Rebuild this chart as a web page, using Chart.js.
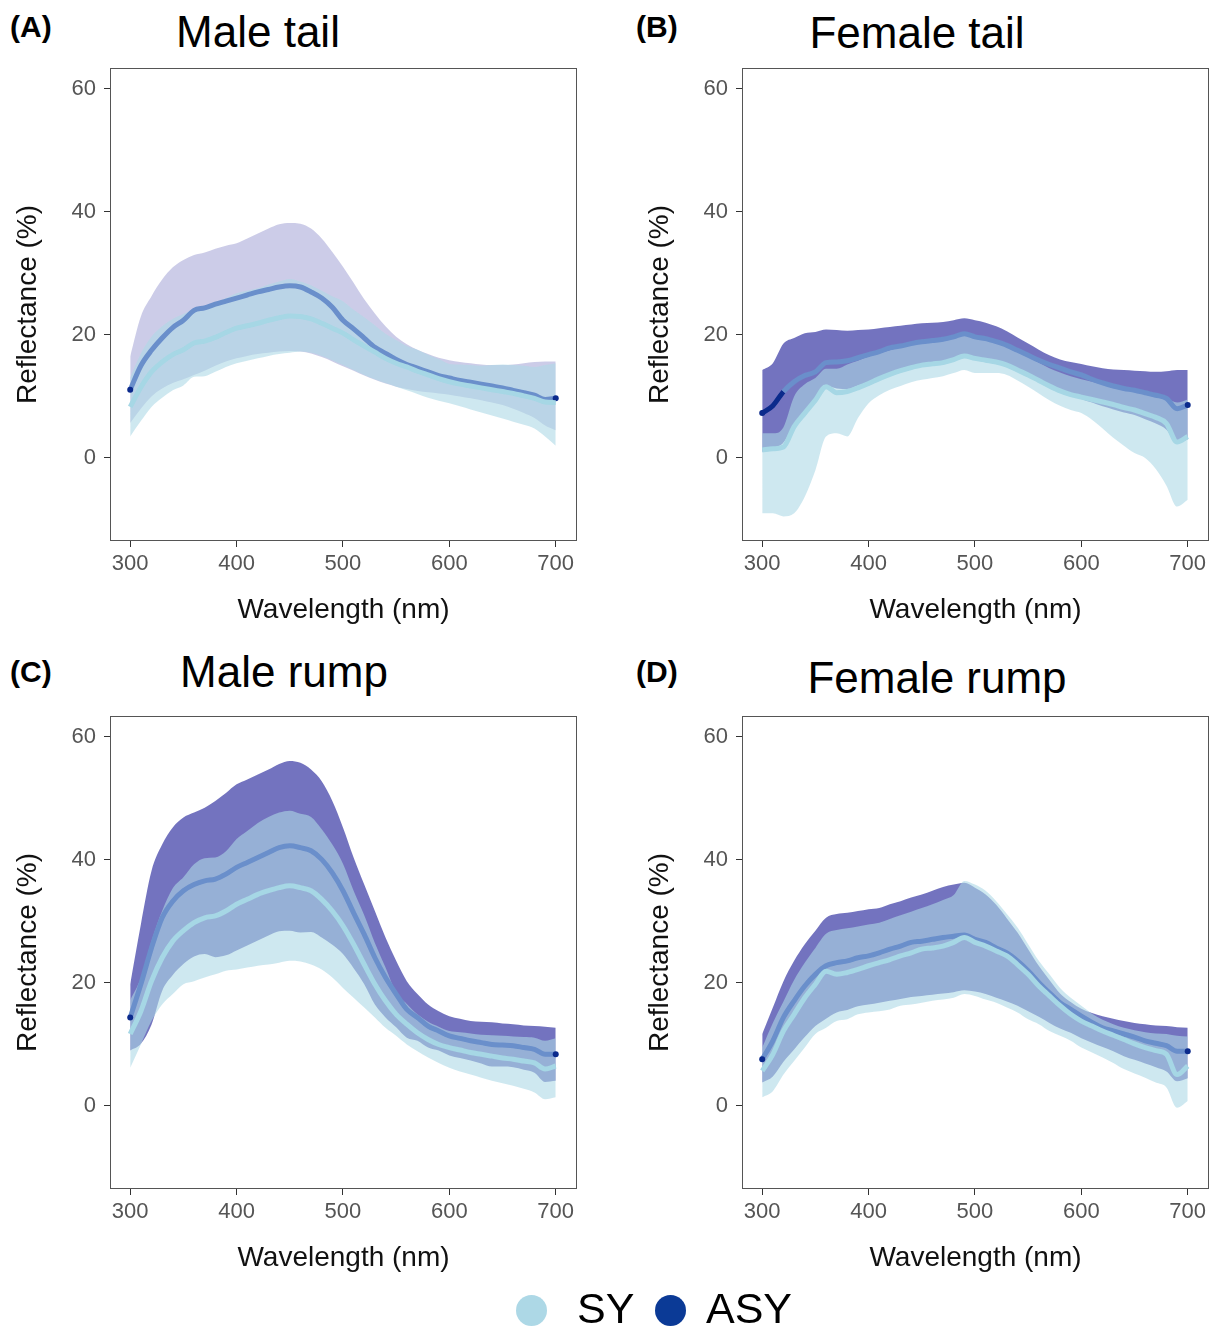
<!DOCTYPE html>
<html>
<head>
<meta charset="utf-8">
<script src="https://cdn.jsdelivr.net/npm/chart.js@4.4.1/dist/chart.umd.min.js"></script>
<style>
  body { margin: 0; background: #fff; width: 1213px; height: 1333px; position: relative; overflow: hidden;
         font-family: "Liberation Sans", Arial, sans-serif; }
  canvas { position: absolute; }
  .letter { position: absolute; font-weight: bold; font-size: 30px; line-height: 1; }
  .title { position: absolute; font-size: 44px; line-height: 1; transform: translateX(-50%); white-space: nowrap; }
  .dot { position: absolute; width: 31px; height: 31px; border-radius: 50%; }
  .key { position: absolute; font-size: 43px; line-height: 1; }
</style>
</head>
<body>
<div class="letter" style="left:10px;top:12px">(A)</div>
<div class="letter" style="left:636px;top:12px">(B)</div>
<div class="letter" style="left:10px;top:657px">(C)</div>
<div class="letter" style="left:636px;top:657px">(D)</div>
<div class="title" style="left:258px;top:10px">Male tail</div>
<div class="title" style="left:917px;top:11px">Female tail</div>
<div class="title" style="left:284px;top:650px">Male rump</div>
<div class="title" style="left:937px;top:656px">Female rump</div>

<canvas id="maleTail" width="581" height="640" style="left:0;top:0"></canvas>
<canvas id="femaleTail" width="581" height="640" style="left:632px;top:0"></canvas>
<canvas id="maleRump" width="581" height="640" style="left:0;top:648px"></canvas>
<canvas id="femaleRump" width="581" height="640" style="left:632px;top:648px"></canvas>

<div class="dot" style="left:516px;top:1295px;background:#add8e6"></div>
<div class="key" style="left:577px;top:1287px">SY</div>
<div class="dot" style="left:655px;top:1295px;background:#0b3a96"></div>
<div class="key" style="left:706px;top:1287px">ASY</div>

<script>
// wavelength grid (nm)
const wavelength = [300, 310, 320, 330, 340, 350, 360, 370, 380, 390, 400, 410, 420, 430, 440, 450, 460, 470, 480, 490, 500,
  510, 520, 530, 540, 550, 560, 570, 580, 590, 600, 610, 620, 630, 640, 650, 660, 670, 680, 690, 700];
const xTicks = [300, 400, 500, 600, 700];
const yTicks = [0, 20, 40, 60];

// (A) male tail
const maleTailAsyMean = [11.1, 15, 17.5, 19.5, 21.2, 22.4, 24, 24.4, 25, 25.5, 26, 26.5, 27, 27.4, 27.8, 28, 27.8, 27, 26, 24.5, 22.4,
  21, 19.5, 18, 17, 16, 15.2, 14.6, 14, 13.4, 13, 12.6, 12.3, 12, 11.7, 11.4, 11, 10.6, 10.2, 9.5, 9.7];
const maleTailAsyHigh = [16.5, 23, 26.3, 29, 31, 32.2, 33, 33.4, 34, 34.5, 34.9, 35.7, 36.5, 37.3, 38, 38.2, 38.1, 37.3, 35.7, 33.5, 31.1,
  28.5, 25.8, 23.5, 21.4, 19.7, 18.5, 17.6, 16.9, 16.3, 15.9, 15.6, 15.4, 15.2, 15.1, 15.1, 15.2, 15.4, 15.6, 15.7, 15.7];
const maleTailAsyLow = [5.7, 8, 10, 11.3, 12.2, 12.8, 13.5, 14.2, 15, 15.7, 16.2, 16.6, 16.9, 17.1, 17.3, 17.4, 17.3, 17, 16.4, 15.7, 14.9,
  14.2, 13.4, 12.7, 12.1, 11.6, 11.2, 10.9, 10.7, 10.5, 10.3, 10, 9.7, 9.4, 9, 8.6, 8, 7.3, 6.5, 5.3, 4.5];
const maleTailSyMean = [8.3, 11.5, 14, 15.6, 16.8, 17.6, 18.7, 19, 19.6, 20.4, 21.1, 21.5, 21.9, 22.4, 22.8, 23.1, 23, 22.6, 21.9, 21.1, 20.3,
  19.2, 18.2, 17.2, 16.2, 15.4, 14.8, 14.1, 13.5, 12.9, 12.4, 12, 11.7, 11.4, 11.1, 10.8, 10.5, 10.1, 9.7, 9.1, 9];
const maleTailSyHigh = [13.1, 17, 19.7, 21.4, 22.6, 23.4, 24.2, 24.7, 25.2, 26, 26.8, 27.2, 27.6, 28.2, 28.7, 29.1, 28.7, 28.1, 27.2, 26.3, 25.5,
  24.1, 22.9, 21.6, 20.2, 19.2, 18.2, 17.6, 16.8, 16.1, 15.3, 15.2, 15.1, 15, 15.1, 15.2, 15.1, 15, 14.8, 15.1, 15.4];
const maleTailSyLow = [3.5, 6, 8.3, 9.8, 11, 11.8, 13.2, 13.3, 14, 14.8, 15.4, 15.8, 16.2, 16.6, 16.9, 17.1, 17.3, 17.1, 16.6, 15.9, 15.1,
  14.3, 13.5, 12.8, 12.2, 11.6, 11, 10.4, 9.8, 9.3, 8.9, 8.4, 7.9, 7.4, 6.9, 6.4, 5.9, 5.4, 4.8, 3.5, 2];

// (B) female tail
const femaleTailAsyMean = [7.3, 8.5, 10.8, 12.4, 13.4, 14, 15.5, 15.6, 15.8, 16.3, 16.8, 17.3, 17.9, 18.2, 18.6, 18.9, 19.1, 19.3, 19.7, 20.2, 19.7,
  19.4, 18.9, 18.3, 17.5, 16.7, 15.9, 15.2, 14.6, 14, 13.5, 12.8, 12.2, 11.7, 11.3, 11, 10.6, 10.2, 9.7, 8, 8.6];
const femaleTailAsyHigh = [14.3, 15.4, 18.6, 19.5, 20.3, 20.5, 20.9, 20.8, 20.7, 20.8, 20.9, 21.1, 21.3, 21.5, 21.7, 21.9, 22, 22.1, 22.4, 22.7, 22.4,
  22, 21.4, 20.6, 19.6, 18.6, 17.6, 16.7, 16, 15.6, 15.3, 14.9, 14.6, 14.4, 14.3, 14.2, 14.1, 14, 14.1, 14.3, 14.3];
const femaleTailAsyLow = [1, 1.5, 2.5, 5.5, 7.6, 9.6, 11.7, 11.3, 11.2, 11.8, 12.4, 13.2, 13.9, 14.5, 15, 15.3, 15.6, 15.8, 16.3, 16.8, 16.4,
  16.1, 15.7, 15.2, 14.4, 13.7, 12.8, 11.9, 11.1, 10.5, 9.6, 9, 8.4, 7.9, 7.4, 7, 6.3, 5.6, 4.6, 2.5, 3];
const femaleTailSyMean = [1.3, 1.5, 1.8, 5.1, 7.3, 9.4, 11.6, 10.6, 10.8, 11.4, 12.1, 12.9, 13.6, 14.2, 14.7, 15.1, 15.3, 15.5, 16, 16.6, 16.2,
  15.9, 15.6, 15.1, 14.3, 13.5, 12.6, 11.7, 10.9, 10.3, 9.9, 9.5, 9.1, 8.7, 8.2, 7.8, 7.2, 6.6, 5.6, 2.6, 3.5];
const femaleTailSyHigh = [4, 4, 5, 10, 12, 13, 14.5, 14.5, 15.2, 15.8, 16.5, 17, 17.5, 18, 18.4, 18.7, 19, 19.2, 19.6, 20.2, 19.8,
  19.4, 18.9, 18.3, 17.4, 16.4, 15.5, 14.6, 13.9, 13.3, 12.8, 12.4, 12, 11.7, 11.3, 11, 10.6, 10.2, 9.7, 9, 9.5];
const femaleTailSyLow = [-9, -9, -9.5, -9, -6.3, -2, 3.5, 4, 3.5, 6.5, 8.9, 10.2, 11.1, 11.7, 12.3, 12.7, 13, 13.3, 13.8, 14.3, 13.8,
  13.8, 13.8, 13.5, 12.6, 11.6, 10.5, 9.4, 8.5, 7.8, 7.3, 6.2, 4.8, 3.3, 2, 0.8, 0, -1.8, -4.5, -7.9, -6.8];

// (C) male rump
const maleRumpAsyMean = [14.4, 19.8, 25.7, 30.6, 33.3, 35, 36, 36.6, 36.9, 37.7, 38.8, 39.6, 40.4, 41.2, 42, 42.3, 42, 41.5, 40.1, 37.9, 35,
  31.4, 27.9, 24.1, 20.9, 18.2, 15.7, 14.4, 13, 12.2, 11.4, 11, 10.6, 10.3, 10, 9.9, 9.8, 9.5, 9.2, 8.4, 8.4];
const maleRumpAsyHigh = [19.8, 29.5, 38.2, 42.5, 45.3, 46.9, 47.7, 48.5, 49.6, 50.9, 52.3, 53.1, 53.9, 54.7, 55.6, 56.1, 55.8, 54.7, 52.8, 49.6, 45.3,
  40.4, 36, 31.7, 27.4, 23.6, 20.3, 18.2, 16.5, 15.4, 14.6, 14.2, 13.8, 13.7, 13.6, 13.4, 13.3, 13.1, 13, 12.9, 12.7];
const maleRumpAsyLow = [9, 10.1, 13.2, 18.7, 21.3, 23.1, 24.3, 24.7, 24.2, 24.5, 25.3, 26.1, 26.9, 27.7, 28.4, 28.5, 28.2, 28.3, 27.4, 26.2, 24.7,
  22.4, 19.8, 16.5, 14.4, 12.8, 11.1, 10.6, 9.5, 9, 8.2, 7.8, 7.4, 6.9, 6.4, 6.4, 6.3, 5.9, 5.4, 3.9, 4.1];
const maleRumpSyMean = [11.7, 15.4, 20.3, 24.1, 26.8, 28.5, 29.8, 30.6, 30.9, 31.7, 32.8, 33.6, 34.4, 35, 35.5, 35.8, 35.5, 35, 33.6, 31.7, 29.3,
  26.3, 23, 19.8, 17.1, 14.9, 13.3, 11.9, 10.8, 10, 9.5, 9.1, 8.7, 8.4, 8.1, 7.8, 7.6, 7.3, 7, 6, 6.5];
const maleRumpSyHigh = [17.2, 20.8, 26.8, 31.7, 35.4, 37.2, 39.3, 40.3, 40.4, 41.4, 43.4, 44.7, 46, 47, 47.7, 48, 47.5, 47, 45, 42.5, 39.4,
  35, 31, 26.5, 22.5, 18.4, 16.6, 14.9, 13.7, 12.9, 12.2, 12, 11.8, 11.6, 11.5, 11.4, 11.3, 11.2, 11.1, 10.6, 11];
const maleRumpSyLow = [6.2, 10, 13.8, 16.5, 18.2, 19.8, 20.3, 20.9, 21.4, 22, 22.2, 22.5, 22.8, 23, 23.3, 23.6, 23.5, 23, 22.2, 20.9, 19.2,
  17.6, 16, 14.4, 12.7, 11.4, 10, 8.9, 7.9, 7, 6.2, 5.6, 5.1, 4.6, 4.1, 3.7, 3.3, 2.8, 2.2, 1.1, 1.4];

// (D) female rump
const femaleRumpAsyMean = [7.6, 10.6, 14.4, 17.1, 19.5, 21.4, 22.8, 23.3, 23.6, 24.1, 24.4, 24.9, 25.5, 26, 26.6, 26.8, 27.1, 27.4, 27.6, 27.8, 27.1,
  26.6, 25.7, 24.9, 23.6, 22, 20.1, 18.4, 16.8, 15.7, 14.6, 13.6, 12.7, 12.2, 11.7, 11.2, 10.6, 10.2, 9.8, 8.9, 8.9];
const femaleRumpAsyHigh = [11.7, 16, 20.3, 23.6, 26.3, 28.5, 30.6, 31.2, 31.4, 31.7, 32, 32.2, 32.8, 33.3, 33.9, 34.4, 35, 35.6, 36, 36.3, 35.5,
  34.4, 32.7, 30.5, 28.2, 25.5, 22.8, 20.5, 18.3, 16.9, 15.8, 15.1, 14.6, 14.2, 13.8, 13.5, 13.3, 13.1, 13, 12.8, 12.7];
const femaleRumpAsyLow = [3.8, 4.8, 7.2, 9.2, 11.2, 13, 14.2, 15.2, 15.6, 16.2, 16.5, 16.8, 17.1, 17.4, 17.7, 17.9, 18.1, 18.3, 18.5, 18.8, 18.6,
  18.2, 17.6, 17, 16.3, 15.4, 14.5, 13.5, 12.6, 11.9, 11, 10.3, 9.6, 8.9, 8.1, 7.5, 6.9, 6.3, 5.6, 4, 4.5];
const femaleRumpSyMean = [5.7, 8.4, 12.2, 14.9, 17.6, 19.8, 21.9, 21.4, 21.7, 22.2, 22.8, 23.3, 23.8, 24.4, 24.9, 25.5, 25.7, 26, 26.6, 27.4, 26.6,
  26, 25.2, 24.4, 23, 21.4, 19.5, 17.9, 16.3, 14.9, 13.8, 13, 12.2, 11.5, 10.8, 10.1, 9.5, 9, 8.4, 5.1, 6.5];
const femaleRumpSyHigh = [9.5, 13.5, 17, 20.5, 23.3, 25.7, 28, 28.6, 28.9, 29.2, 29.5, 29.8, 30.4, 31, 31.6, 32.2, 32.8, 33.5, 34.3, 36.6, 36,
  35, 33.3, 31.2, 29, 26.3, 23.6, 21.4, 19.2, 17.6, 16.3, 15, 14, 13.3, 12.7, 12.3, 12, 11.8, 11.7, 11.4, 11.3];
const femaleRumpSyLow = [1.4, 2.4, 5.1, 7.3, 9.5, 11.7, 12.7, 13.8, 14.1, 14.9, 15.2, 15.4, 15.7, 16.3, 16.5, 16.8, 17.1, 17.3, 17.6, 18.2, 17.9,
  17.3, 16.8, 16, 15.2, 14.1, 13.3, 12.2, 11.4, 10.6, 9.5, 8.7, 7.9, 7, 6, 5.3, 4.6, 3.8, 3, -0.3, 0.8];

Chart.defaults.font.family = '"Liberation Sans", Arial, sans-serif';

const panelBorder = {
  id: "panelBorder",
  afterDraw(chart) {
    const { ctx, chartArea: a } = chart;
    ctx.save();
    ctx.strokeStyle = "#555";
    ctx.lineWidth = 1;
    ctx.strokeRect(a.left + 0.5, a.top + 0.5, a.width - 1, a.height - 1);
    ctx.restore();
  },
};

const pts = (arr) => arr.map((v, i) => ({ x: wavelength[i], y: v }));
const lastIdx = wavelength.length - 1;

const makePanel = (id, asyMean, asyHigh, asyLow, syMean, syHigh, syLow, asyAlpha, navyStart) => {
  new Chart(document.getElementById(id), {
    type: "line",
    data: {
      datasets: [
        { data: pts(asyHigh), fill: "+1", backgroundColor: `rgba(0,0,139,${asyAlpha})`, borderColor: "transparent", order: 6 },
        { data: pts(asyLow), fill: false, borderColor: "transparent", order: 6 },
        { data: pts(syHigh), fill: "+1", backgroundColor: "rgba(173,216,230,0.6)", borderColor: "transparent", order: 5 },
        { data: pts(syLow), fill: false, borderColor: "transparent", order: 5 },
        {
          data: pts(asyMean), borderColor: "#6a8fcb", borderWidth: 5, order: 2,
          pointRadius: (c) => (c.dataIndex === 0 || c.dataIndex === lastIdx ? 3 : 0),
          pointBackgroundColor: "#0b2a8c", pointBorderWidth: 0,
          segment: navyStart ? { borderColor: (c) => (c.p0DataIndex < 2 ? "#0b2a8c" : undefined) } : {},
        },
        { data: pts(syMean), borderColor: "#a6d7e5", borderWidth: 5, order: 1 },
      ],
    },
    options: {
      responsive: false,
      animation: false,
      devicePixelRatio: 1,
      layout: { padding: { left: 0, right: 3, top: 68, bottom: 0 } },
      elements: { point: { radius: 0 }, line: { cubicInterpolationMode: "monotone" } },
      plugins: { legend: { display: false }, tooltip: { enabled: false } },
      scales: {
        x: {
          type: "linear", min: 281, max: 720,
          afterBuildTicks: (s) => { s.ticks = xTicks.map((v) => ({ value: v })); },
          afterFit: (s) => { s.height = 99; },
          grid: { drawOnChartArea: false, drawTicks: true, tickLength: 6, color: "#333" },
          border: { display: false },
          ticks: { color: "#555", font: { size: 22 }, padding: 4, maxRotation: 0 },
          title: { display: true, text: "Wavelength (nm)", color: "#111", font: { size: 28 }, padding: { top: 0, bottom: 13 } },
        },
        y: {
          type: "linear", min: -13.5, max: 63.41,
          afterBuildTicks: (s) => { s.ticks = yTicks.map((v) => ({ value: v })); },
          afterFit: (s) => { s.width = 110; },
          grid: { drawOnChartArea: false, drawTicks: true, tickLength: 6, color: "#333" },
          border: { display: false },
          ticks: { color: "#555", font: { size: 22 }, padding: 8 },
          title: { display: true, text: "Reflectance (%)", color: "#111", font: { size: 28 }, padding: { top: 11, bottom: 0 } },
        },
      },
    },
    plugins: [panelBorder],
  });
};

makePanel("maleTail", maleTailAsyMean, maleTailAsyHigh, maleTailAsyLow, maleTailSyMean, maleTailSyHigh, maleTailSyLow, 0.2, false);
makePanel("femaleTail", femaleTailAsyMean, femaleTailAsyHigh, femaleTailAsyLow, femaleTailSyMean, femaleTailSyHigh, femaleTailSyLow, 0.55, true);
makePanel("maleRump", maleRumpAsyMean, maleRumpAsyHigh, maleRumpAsyLow, maleRumpSyMean, maleRumpSyHigh, maleRumpSyLow, 0.55, false);
makePanel("femaleRump", femaleRumpAsyMean, femaleRumpAsyHigh, femaleRumpAsyLow, femaleRumpSyMean, femaleRumpSyHigh, femaleRumpSyLow, 0.55, false);
</script>
</body>
</html>
